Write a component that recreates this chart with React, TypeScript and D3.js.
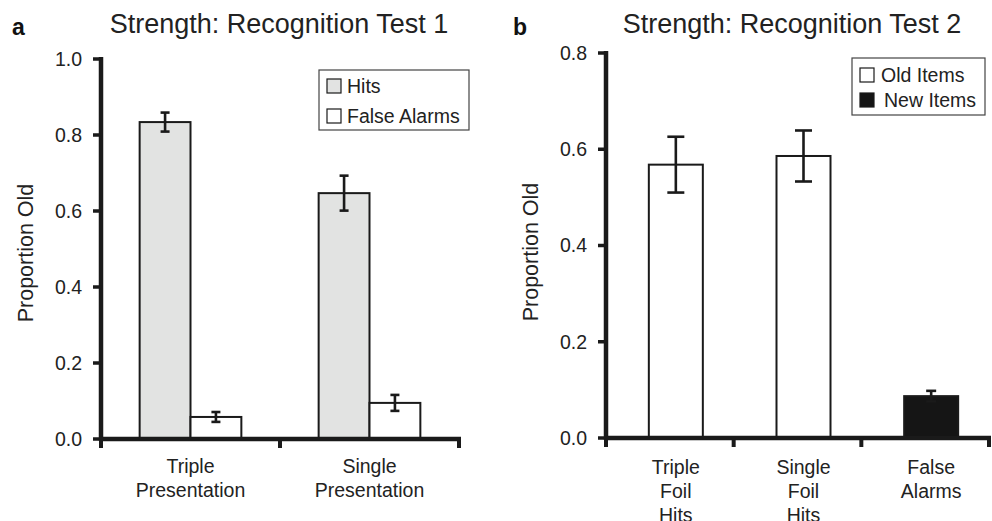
import React from 'react';
import * as d3 from 'd3';

// Panel a: Recognition Test 1
const categoriesA = ['Triple Presentation', 'Single Presentation'];
const seriesA = ['Hits', 'False Alarms'];
const hitsA = [0.834, 0.647];
const hitsErrA = [0.025, 0.046];
const falseAlarmsA = [0.058, 0.095];
const falseAlarmsErrA = [0.013, 0.021];
const yTicksA = [0, 0.2, 0.4, 0.6, 0.8, 1.0];

// Panel b: Recognition Test 2
const categoriesB = ['Triple Foil Hits', 'Single Foil Hits', 'False Alarms'];
const seriesB = ['Old Items', 'New Items'];
const itemTypeB = ['Old Items', 'Old Items', 'New Items'];
const valuesB = [0.568, 0.586, 0.087];
const errB = [0.058, 0.053, 0.011];
const yTicksB = [0, 0.2, 0.4, 0.6, 0.8];

const FONT = '"Liberation Sans", Arial, Helvetica, sans-serif';
const INK = '#1a1a1a';
const fmt = d3.format('.1f');

const fillA: Record<string, string> = { 'Hits': '#e2e3e2', 'False Alarms': '#ffffff' };
const fillB: Record<string, string> = { 'Old Items': '#ffffff', 'New Items': '#151515' };
const capB: Record<string, number> = { 'Old Items': 17, 'New Items': 10 };

const ErrorBar = ({ x, y0, y1, cap }) => (
  <g stroke={INK} strokeWidth={2.6}>
    <line x1={x} x2={x} y1={y0} y2={y1} />
    <line x1={x - cap / 2} x2={x + cap / 2} y1={y0} y2={y0} />
    <line x1={x - cap / 2} x2={x + cap / 2} y1={y1} y2={y1} />
  </g>
);

const YAxis = ({ y, ticks, x0, x1, bottom, top }) => (
  <g>
    <line x1={x0} x2={x0} y1={bottom + 2} y2={top} stroke={INK} strokeWidth={4.5} />
    {ticks.map(t => (
      <g key={t}>
        <line x1={x0 - 8} x2={x0} y1={y(t)} y2={y(t)} stroke={INK} strokeWidth={3.5} />
        <text x={x0 - 19} y={y(t)} dy="0.35em" textAnchor="end"
          fontSize={19.5} fill="#222" fontFamily={FONT}>{fmt(t)}</text>
      </g>
    ))}
  </g>
);

const XAxis = ({ x0, x1, yPos, tickXs }) => (
  <g>
    <line x1={x0 - 2} x2={x1 + 2} y1={yPos} y2={yPos} stroke={INK} strokeWidth={4.5} />
    {tickXs.map((t, i) => (
      <line key={i} x1={t} x2={t} y1={yPos} y2={yPos + 9} stroke={INK} strokeWidth={4} />
    ))}
  </g>
);

const CatLabel = ({ x, y, text }) => (
  <text x={x} y={y} textAnchor="middle" fontSize={19.5} fill="#222" fontFamily={FONT}>
    {text.split(' ').map((w, i) => (
      <tspan key={i} x={x} dy={i === 0 ? 0 : 24}>{w}</tspan>
    ))}
  </text>
);

const Legend = ({ x, y, w, h, items, fills, textX, rowYs }) => (
  <g fontFamily={FONT}>
    <rect x={x} y={y} width={w} height={h} fill="#fff" stroke="#444" strokeWidth={1.2} />
    {items.map((s, i) => (
      <g key={s}>
        <rect x={x + 8} y={rowYs[i] - 14} width={14} height={14} fill={fills[s]} stroke={INK} strokeWidth={1.2} />
        <text x={textX[i]} y={rowYs[i]} fontSize={19.5} fill="#222">{s}</text>
      </g>
    ))}
  </g>
);

const PanelA = () => {
  const axisX0 = 101, axisX1 = 459;
  const y = d3.scaleLinear().domain([0, 1]).range([439, 59]);
  const x = d3.scaleBand().domain(categoriesA).range([axisX0, axisX1]).paddingInner(0).paddingOuter(0);
  const xs = d3.scaleBand().domain(seriesA).range([0, x.bandwidth()]).paddingInner(0).paddingOuter(0.76);
  const rows = categoriesA.map((c, i) => ({
    c,
    bars: [
      { s: 'Hits', v: hitsA[i], e: hitsErrA[i] },
      { s: 'False Alarms', v: falseAlarmsA[i], e: falseAlarmsErrA[i] },
    ],
  }));
  const tickXs = [axisX0, ...categoriesA.map(c => (x(c) as number) + x.bandwidth())];
  return (
    <g>
      <text x={12} y={35} fontSize={23} fontWeight="bold" fill="#111" fontFamily={FONT}>a</text>
      <text x={279} y={33} textAnchor="middle" fontSize={27} fill="#222" fontFamily={FONT}>
        Strength: Recognition Test 1
      </text>
      <text transform="translate(33,253) rotate(-90)" textAnchor="middle" fontSize={21.5}
        fill="#222" fontFamily={FONT}>Proportion Old</text>
      {rows.map(r => r.bars.map(b => {
        const bx = (x(r.c) as number) + (xs(b.s) as number);
        return (
          <g key={r.c + b.s}>
            <rect x={bx} y={y(b.v)} width={xs.bandwidth()} height={y(0) - y(b.v)}
              fill={fillA[b.s]} stroke={INK} strokeWidth={2} />
            <ErrorBar x={bx + xs.bandwidth() / 2} y0={y(b.v + b.e)} y1={y(b.v - b.e)} cap={9} />
          </g>
        );
      }))}
      <YAxis y={y} ticks={yTicksA} x0={axisX0} x1={axisX1} bottom={439} top={57} />
      <XAxis x0={axisX0} x1={axisX1} yPos={439} tickXs={tickXs} />
      {categoriesA.map(c => (
        <CatLabel key={c} x={(x(c) as number) + x.bandwidth() / 2} y={473} text={c} />
      ))}
      <Legend x={319} y={70} w={150} h={60} items={seriesA} fills={fillA}
        textX={[347, 347]} rowYs={[93, 123]} />
    </g>
  );
};

const PanelB = () => {
  const axisX0 = 606, axisX1 = 989;
  const y = d3.scaleLinear().domain([0, 0.8]).range([438, 53]);
  const x = d3.scaleBand().domain(categoriesB).range([axisX0, axisX1]).paddingInner(0).paddingOuter(0);
  const barW = 54;
  const shift = 6;
  const tickXs = [axisX0, ...categoriesB.map(c => (x(c) as number) + x.bandwidth())];
  return (
    <g>
      <text x={513} y={35} fontSize={23} fontWeight="bold" fill="#111" fontFamily={FONT}>b</text>
      <text x={792} y={33} textAnchor="middle" fontSize={27} fill="#222" fontFamily={FONT}>
        Strength: Recognition Test 2
      </text>
      <text transform="translate(538,252) rotate(-90)" textAnchor="middle" fontSize={21.5}
        fill="#222" fontFamily={FONT}>Proportion Old</text>
      {categoriesB.map((c, i) => {
        const cx = (x(c) as number) + x.bandwidth() / 2 + shift;
        const s = itemTypeB[i];
        return (
          <g key={c}>
            <rect x={cx - barW / 2} y={y(valuesB[i])} width={barW} height={y(0) - y(valuesB[i])}
              fill={fillB[s]} stroke={INK} strokeWidth={2} />
            <ErrorBar x={cx} y0={y(valuesB[i] + errB[i])} y1={y(valuesB[i] - errB[i])} cap={capB[s]} />
          </g>
        );
      })}
      <YAxis y={y} ticks={yTicksB} x0={axisX0} x1={axisX1} bottom={438} top={51} />
      <XAxis x0={axisX0} x1={axisX1} yPos={438} tickXs={tickXs} />
      {categoriesB.map(c => (
        <CatLabel key={c} x={(x(c) as number) + x.bandwidth() / 2 + shift} y={474} text={c} />
      ))}
      <Legend x={852} y={58} w={133} h={57} items={seriesB} fills={fillB}
        textX={[881, 884]} rowYs={[82, 107]} />
    </g>
  );
};

export default function App() {
  return (
    <svg width={992} height={521} style={{ position: 'absolute', left: 0, top: 0, background: '#fff' }}>
      <rect width={992} height={521} fill="#fff" />
      <PanelA />
      <PanelB />
    </svg>
  );
}
